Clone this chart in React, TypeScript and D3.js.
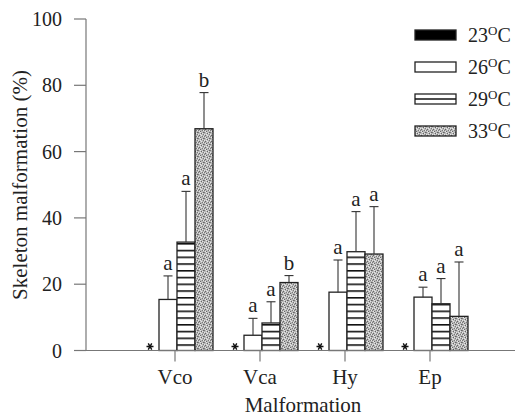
import React, { useEffect, useRef } from 'react';
import * as d3 from 'd3';

const categories = ['Vco', 'Vca', 'Hy', 'Ep'];
const series = ['23', '26', '29', '33'];
// mean values per series, in category order
const values23 = [0, 0, 0, 0];
const values26 = [15.4, 4.6, 17.6, 16.1];
const values29 = [32.7, 8.3, 29.8, 14.1];
const values33 = [66.9, 20.5, 29.1, 10.3];
// upper end of the error bars
const err26 = [22.5, 9.7, 27.3, 19.1];
const err29 = [48.0, 14.7, 41.9, 21.7];
const err33 = [77.8, 22.6, 43.4, 26.7];
// significance letters
const letters26 = ['a', 'a', 'a', 'a'];
const letters29 = ['a', 'a', 'a', 'a'];
const letters33 = ['b', 'b', 'a', 'a'];
const yTicks = [0, 20, 40, 60, 80, 100];

const FONT = "'Liberation Serif', 'Times New Roman', 'DejaVu Serif', serif";

function SkeletonChart() {
  const svgRef = useRef<SVGSVGElement | null>(null);

  useEffect(() => {
    if (!svgRef.current) return;
    const svg = d3.select(svgRef.current);
    svg.selectAll('*').remove();

    const defs = svg.append('defs');

    // horizontal stripes
    const stripes = defs.append('pattern')
      .attr('id', 'stripes')
      .attr('patternUnits', 'userSpaceOnUse')
      .attr('width', 8)
      .attr('height', 6.75);
    stripes.append('rect').attr('width', 8).attr('height', 6.75).attr('fill', '#fff');
    stripes.append('rect').attr('y', 0).attr('width', 8).attr('height', 1.6).attr('fill', '#111');

    // speckled grey texture
    const dots = defs.append('pattern')
      .attr('id', 'dots')
      .attr('patternUnits', 'userSpaceOnUse')
      .attr('width', 6)
      .attr('height', 6);
    dots.append('rect').attr('width', 6).attr('height', 6).attr('fill', '#b8b8b8');
    const dark = [[0, 0], [3, 1], [5, 2], [1, 3], [4, 4], [2, 5], [0, 4], [5, 0]];
    const light = [[2, 0], [4, 1], [0, 2], [3, 3], [5, 4], [1, 5], [2, 2]];
    dark.forEach(([px, py], i) => {
      dots.append('rect')
        .attr('x', px).attr('y', py).attr('width', 1).attr('height', 1)
        .attr('fill', i % 2 ? '#666' : '#7a7a7a');
    });
    light.forEach(([px, py]) => {
      dots.append('rect')
        .attr('x', px).attr('y', py).attr('width', 1).attr('height', 1)
        .attr('fill', '#e6e6e6');
    });

    const fills: Record<string, string> = {
      '23': '#000',
      '26': '#fff',
      '29': 'url(#stripes)',
      '33': 'url(#dots)'
    };

    const y = d3.scaleLinear().domain([0, 100]).range([350.5, 19]);
    const x = d3.scaleBand<string>()
      .domain(categories)
      .range([134.5, 474.5])
      .paddingInner(0.153)
      .paddingOuter(0.0765);
    const xs = d3.scaleBand<string>().domain(series).range([0, x.bandwidth()]);

    const valueMap: Record<string, number[]> = { '23': values23, '26': values26, '29': values29, '33': values33 };
    const errMap: Record<string, number[]> = { '26': err26, '29': err29, '33': err33 };
    const letterMap: Record<string, string[]> = { '26': letters26, '29': letters29, '33': letters33 };

    const txt = (sel: d3.Selection<SVGTextElement, unknown, null, undefined>, size = 21) =>
      sel.style('font-family', FONT).style('font-size', `${size}px`).attr('fill', '#222');

    // axes
    const axisColor = '#777';
    svg.append('line')
      .attr('x1', 86).attr('x2', 86)
      .attr('y1', y(100)).attr('y2', y(0))
      .attr('stroke', axisColor).attr('stroke-width', 1.2);

    const yAxis = svg.append('g');
    yTicks.forEach(t => {
      yAxis.append('line')
        .attr('x1', 74).attr('x2', 86)
        .attr('y1', y(t)).attr('y2', y(t))
        .attr('stroke', axisColor).attr('stroke-width', 1.2);
      txt(yAxis.append('text'), 20)
        .attr('x', 62).attr('y', y(t))
        .attr('dy', '0.35em')
        .attr('text-anchor', 'end')
        .text(t);
    });

    const star = d3.symbol().type(d3.symbolAsterisk).size(34);

    // bars
    categories.forEach((cat, ci) => {
      const gx = x(cat) as number;
      series.forEach(s => {
        const v = valueMap[s][ci];
        const bx = gx + (xs(s) as number);
        const bw = xs.bandwidth();
        if (v > 0) {
          svg.append('rect')
            .attr('x', bx).attr('y', y(v))
            .attr('width', bw).attr('height', y(0) - y(v))
            .attr('fill', fills[s])
            .attr('stroke', '#222').attr('stroke-width', 1.3);
        }
        const e = errMap[s]?.[ci];
        if (e !== undefined) {
          const cx = bx + bw / 2;
          svg.append('line')
            .attr('x1', cx).attr('x2', cx)
            .attr('y1', y(v)).attr('y2', y(e))
            .attr('stroke', '#333').attr('stroke-width', 1.1);
          svg.append('line')
            .attr('x1', cx - 4.5).attr('x2', cx + 4.5)
            .attr('y1', y(e)).attr('y2', y(e))
            .attr('stroke', '#333').attr('stroke-width', 1.1);
          txt(svg.append('text'))
            .attr('x', cx).attr('y', y(e) - 6)
            .attr('text-anchor', 'middle')
            .text(letterMap[s][ci]);
        }
      });
      // asterisk for the 23 °C bar (no malformation)
      const sx = gx + (xs('23') as number) + xs.bandwidth() / 2;
      svg.append('path')
        .attr('d', star)
        .attr('transform', `translate(${sx},${y(0) - 4}) rotate(90)`)
        .attr('fill', 'none')
        .attr('stroke', '#111')
        .attr('stroke-width', 1.4);
    });

    // x axis
    svg.append('line')
      .attr('x1', 86).attr('x2', 515)
      .attr('y1', y(0)).attr('y2', y(0))
      .attr('stroke', axisColor).attr('stroke-width', 1.2);
    categories.forEach(cat => {
      const cx = (x(cat) as number) + x.bandwidth() / 2 - 2;
      svg.append('line')
        .attr('x1', cx).attr('x2', cx)
        .attr('y1', y(0)).attr('y2', y(0) + 11)
        .attr('stroke', axisColor).attr('stroke-width', 1.2);
      txt(svg.append('text'))
        .attr('x', cx).attr('y', 384)
        .attr('text-anchor', 'middle')
        .text(cat);
    });

    // axis titles
    txt(svg.append('text'))
      .attr('x', 303).attr('y', 412)
      .attr('text-anchor', 'middle')
      .text('Malformation');
    txt(svg.append('text'))
      .attr('transform', 'translate(27,185) rotate(-90)')
      .attr('text-anchor', 'middle')
      .text('Skeleton malformation (%)');

    // legend
    const legend = svg.append('g');
    series.forEach((s, i) => {
      const ly = 35 + i * 32;
      legend.append('rect')
        .attr('x', 415).attr('y', ly - 5)
        .attr('width', 41).attr('height', 10)
        .attr('fill', s === '29' ? '#fff' : fills[s])
        .attr('stroke', '#222').attr('stroke-width', 1.3);
      if (s === '29') {
        legend.append('line')
          .attr('x1', 415).attr('x2', 456)
          .attr('y1', ly).attr('y2', ly)
          .attr('stroke', '#111').attr('stroke-width', 1.4);
      }
      const t = txt(legend.append('text'), 20)
        .attr('x', 468).attr('y', ly + 7);
      t.append('tspan').text(s);
      t.append('tspan').style('font-size', '13px').attr('dy', -7).text('O');
      t.append('tspan').attr('dy', 7).text('C');
    });
  }, []);

  return <svg ref={svgRef} width={516} height={418} style={{ display: 'block' }} />;
}

export default function App() {
  return (
    <div style={{ position: 'absolute', left: 0, top: 0 }}>
      <SkeletonChart />
    </div>
  );
}
